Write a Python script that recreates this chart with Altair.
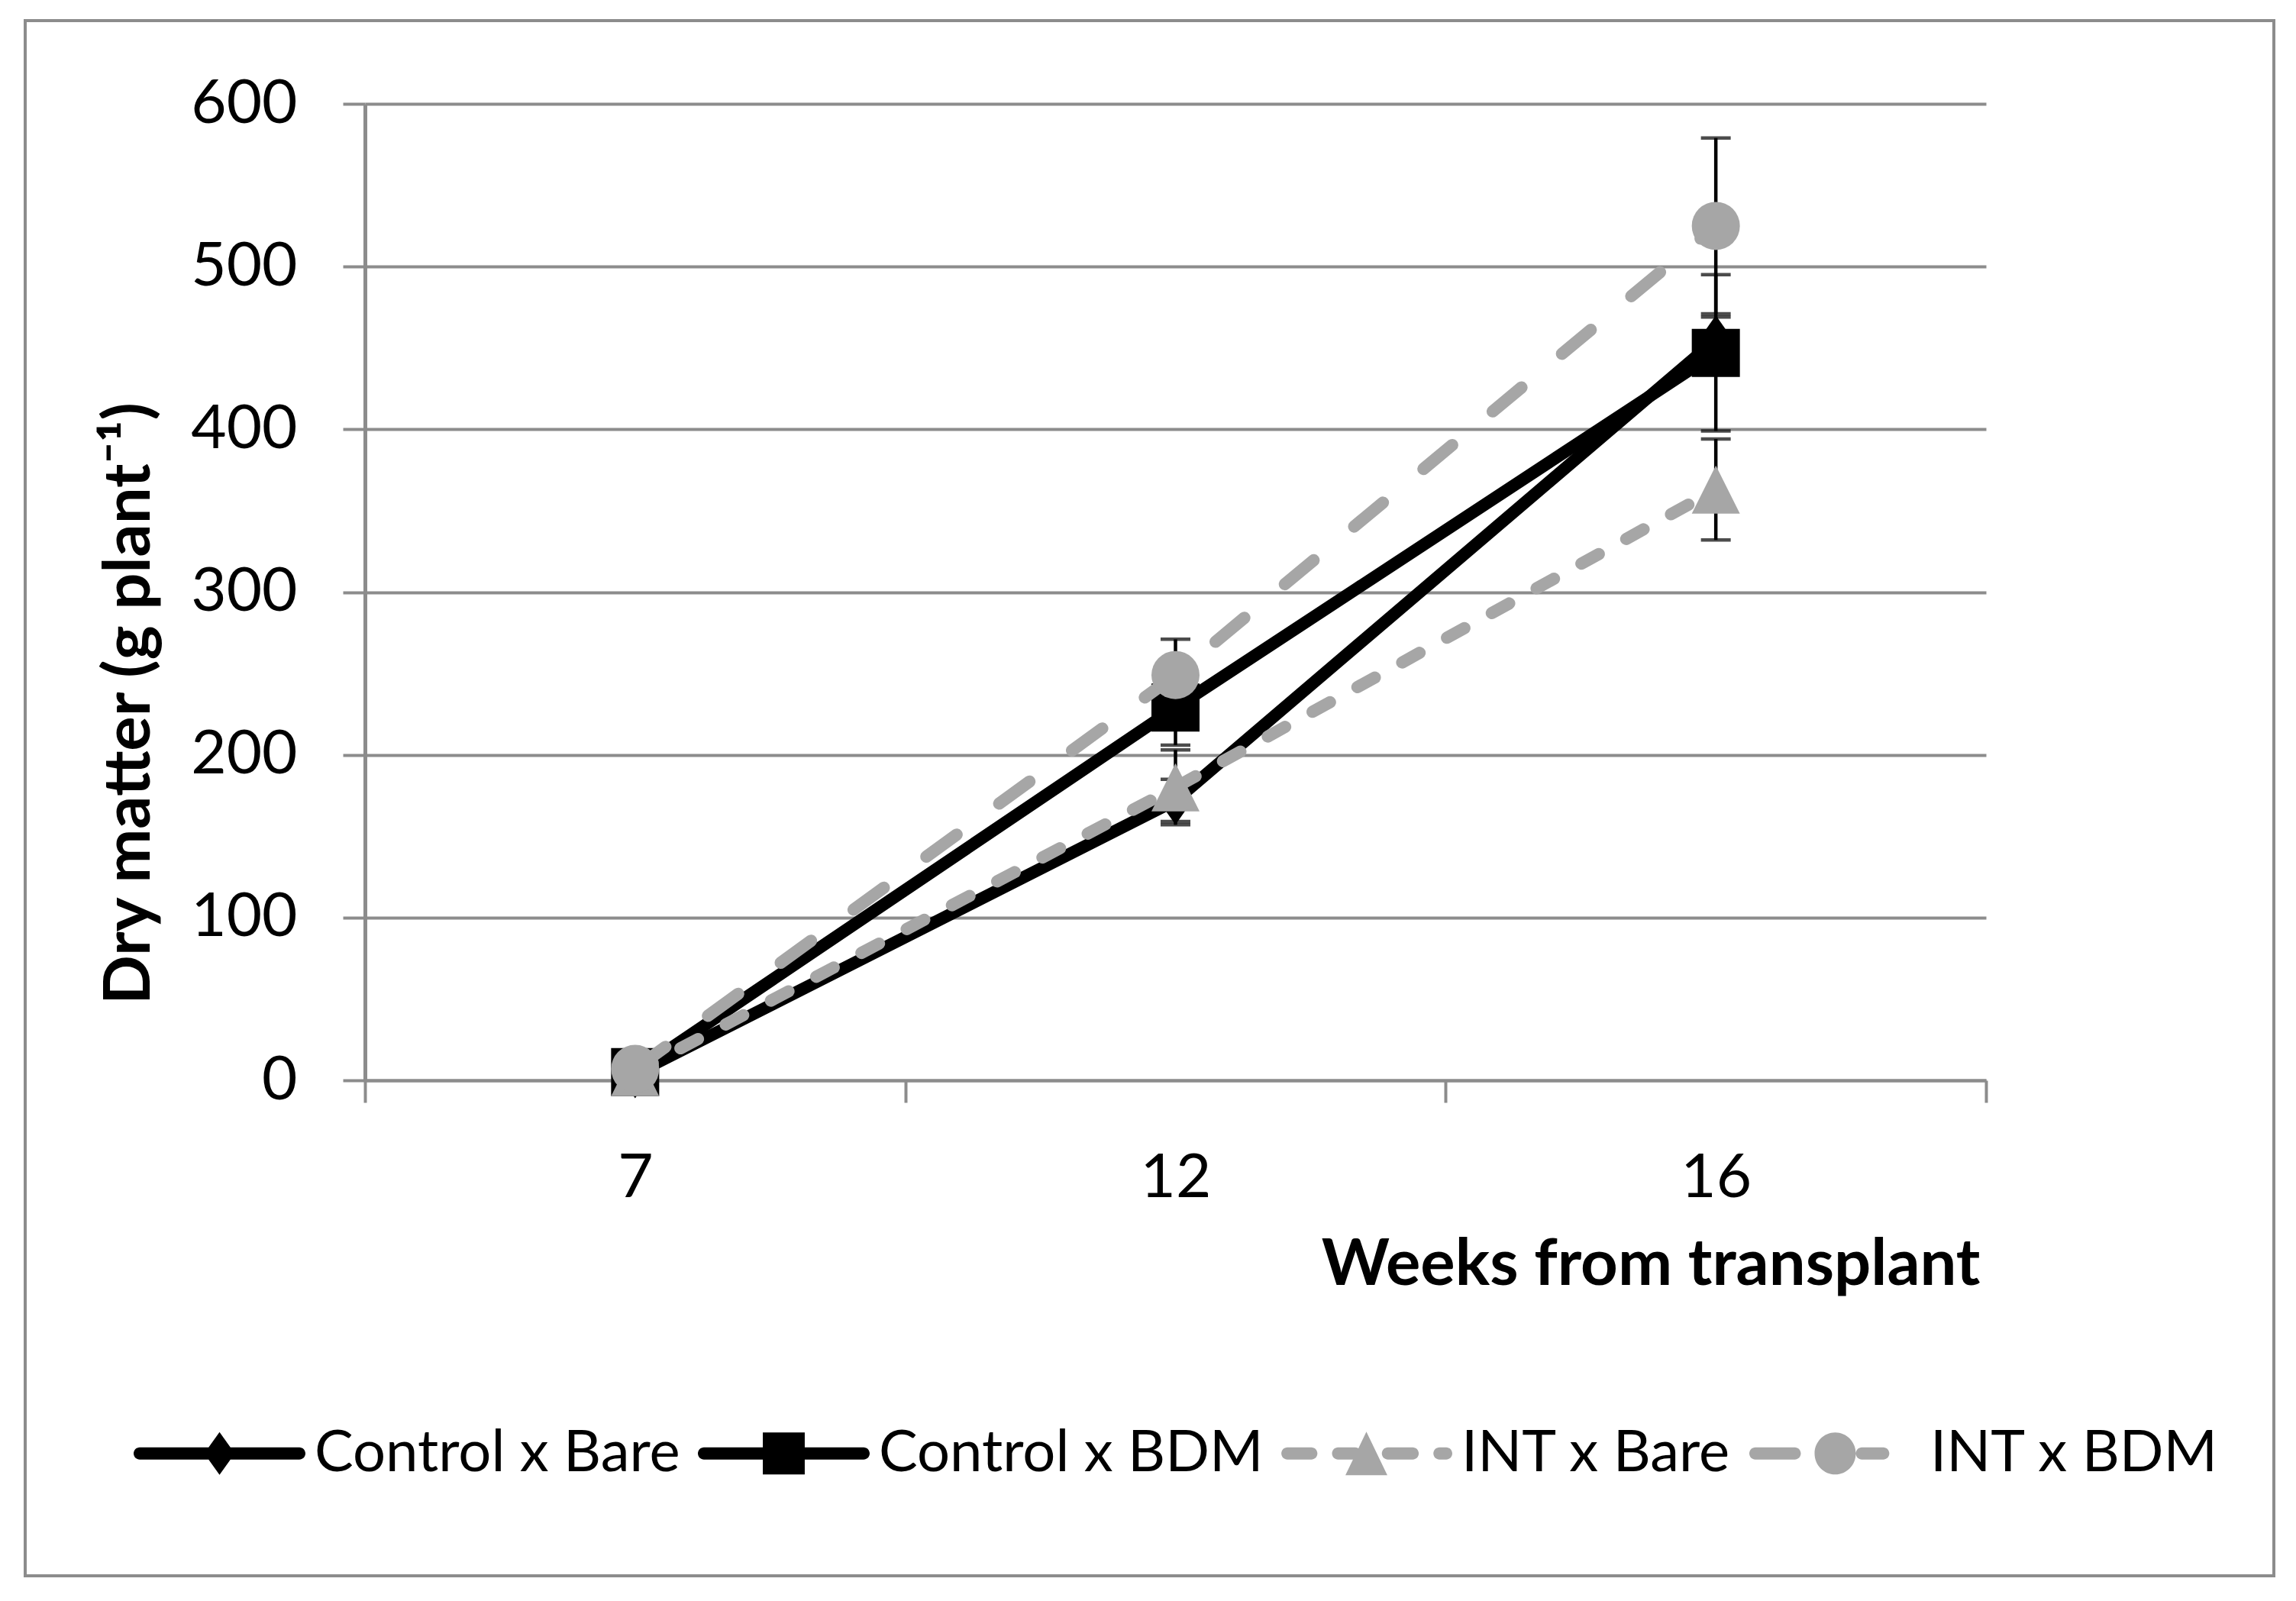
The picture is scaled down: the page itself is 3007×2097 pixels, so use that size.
import altair as alt
import pandas as pd

# ---------------- data ----------------
weeks = ["7", "12", "16"]
series = ["Control x Bare", "Control x BDM", "INT x Bare", "INT x BDM"]

control_bare = [4, 172, 455]
control_bdm = [5, 229, 447]
int_bare = [5, 180, 363]
int_bdm = [7, 249, 525]

err_control_bare = [1, 13, 14]
err_control_bdm = [1, 23, 48]
err_int_bare = [1, 23, 31]
err_int_bdm = [2, 22, 54]

y_ticks = [0, 100, 200, 300, 400, 500, 600]

values = [control_bare, control_bdm, int_bare, int_bdm]
errors = [err_control_bare, err_control_bdm, err_int_bare, err_int_bdm]

rows = []
for s, vals, errs in zip(series, values, errors):
    for w, v, e in zip(weeks, vals, errs):
        rows.append({"Week": w, "Series": s, "Value": v, "Lo": v - e, "Hi": v + e})
df = pd.DataFrame(rows)

# ---------------- styles ----------------
BLACK = "#000000"
GRAY = "#a6a6a6"
GRID = "#8c8c8c"
FONT = "Lato"

colors = [BLACK, BLACK, GRAY, GRAY]
dashes = [None, None, [26, 41], [49, 69]]
marker_shapes = ["M0,-1L0.7,0L0,1L-0.7,0Z", "square", "M0,-1L1,1L-1,1Z", "circle"]
marker_sizes = [4096, 3969, 3969, 3969]


def capsule(x0, x1, h):
    return (f"M{x0 + h:.3f},{-h:.3f}L{x1 - h:.3f},{-h:.3f}"
            f"A{h:.3f},{h:.3f} 0 0 1 {x1 - h:.3f},{h:.3f}"
            f"L{x0 + h:.3f},{h:.3f}"
            f"A{h:.3f},{h:.3f} 0 0 1 {x0 + h:.3f},{-h:.3f}Z")


H = 0.071
legend_paths = [
    capsule(-1, 1, H) + "M0,-0.249L0.178,0L0,0.249L-0.178,0Z",
    capsule(-1, 1, H) + "M-0.244,-0.244L0.244,-0.244L0.244,0.244L-0.244,0.244Z",
    capsule(-0.99, -0.57, H) + capsule(-0.40, -0.06, H) + capsule(0.18, 0.61, H)
    + capsule(0.78, 1.0, H) + "M0,-0.253L0.244,0.253L-0.244,0.253Z",
    capsule(-1, -0.4, H) + capsule(0.24, 0.63, H)
    + "M-0.24,0A0.24,0.245 0 1 0 0.24,0A0.24,0.245 0 1 0 -0.24,0Z",
]

PW, PH = 2123, 1279

x_enc = alt.X(
    "Week:N",
    sort=weeks,
    scale=alt.Scale(type="band", domain=weeks, paddingInner=0, paddingOuter=0),
    axis=alt.Axis(
        title="Weeks from transplant",
        labelAngle=0,
        tickBand="extent",
        grid=False,
        domainColor=GRID,
        domainWidth=4,
        tickColor=GRID,
        tickWidth=4,
        tickSize=29,
        labelPadding=60,
        labelFont=FONT,
        labelFontSize=80,
        labelColor=BLACK,
        titleFont=FONT,
        titleFontSize=85,
        titleFontWeight="bold",
        titleColor=BLACK,
        titleAnchor="end",
        titleAlign="right",
        titleBaseline="alphabetic",
        titleX=PW - 8,
        titleY=267,
    ),
)

y_enc = alt.Y(
    "Value:Q",
    scale=alt.Scale(domain=[0, 600], nice=False, zero=True),
    axis=alt.Axis(
        title="Dry matter (g plant\u207b\u00b9)",
        values=y_ticks,
        grid=True,
        gridColor=GRID,
        gridWidth=4,
        domainColor=GRID,
        domainWidth=5,
        tickColor=GRID,
        tickWidth=4,
        tickSize=29,
        labelPadding=60,
        labelFont=FONT,
        labelFontSize=80,
        labelColor=BLACK,
        titleFont=FONT,
        titleFontSize=85,
        titleFontWeight="bold",
        titleColor=BLACK,
        titleAngle=270,
        titleAlign="center",
        titleBaseline="alphabetic",
        titleX=-283,
        titleY=785,
    ),
)

base = alt.Chart(df)

# outer frame of the chart
frame = alt.Chart(pd.DataFrame({"k": [0]})).mark_rect(
    fillOpacity=0, stroke=GRID, strokeWidth=4
).encode(
    x=alt.value(-445), x2=alt.value(2500), y=alt.value(-109), y2=alt.value(1928)
)

layers = [frame]
for i, s in enumerate(series):
    sub = base.transform_filter(alt.datum.Series == s)
    line_kwargs = dict(color=colors[i], strokeWidth=16, strokeCap="round", strokeJoin="round")
    if dashes[i] is not None:
        line_kwargs["strokeDash"] = dashes[i]
    line = sub.mark_line(**line_kwargs).encode(x=x_enc, y=y_enc)
    rule = sub.mark_rule(color=BLACK, strokeWidth=4.5).encode(
        x=alt.X("Week:N", sort=weeks), y="Lo:Q", y2="Hi:Q"
    )
    cap_lo = sub.mark_tick(color=BLACK, thickness=4.5, size=39).encode(
        x=alt.X("Week:N", sort=weeks), y="Lo:Q"
    )
    cap_hi = sub.mark_tick(color=BLACK, thickness=4.5, size=39).encode(
        x=alt.X("Week:N", sort=weeks), y="Hi:Q"
    )
    pts = sub.mark_point(
        shape=marker_shapes[i], size=marker_sizes[i], filled=True,
        fill=colors[i], opacity=1, strokeWidth=0
    ).encode(x=alt.X("Week:N", sort=weeks), y="Value:Q")
    layers += [line, rule, cap_lo, cap_hi, pts]

legend = alt.Legend(
    title=None,
    orient="none",
    legendX=-303,
    legendY=1655,
    direction="horizontal",
    columns=4,
    columnPadding=22,
    padding=0,
    symbolSize=50625,
    symbolOpacity=1,
    symbolStrokeWidth=0,
    symbolOffset=0,
    labelOffset=12,
    labelFont=FONT,
    labelFontSize=76,
    labelColor=BLACK,
    labelLimit=1200,
)

legend_layer = base.mark_point(filled=True, opacity=0).encode(
    x=alt.X("Week:N", sort=weeks),
    y="Value:Q",
    color=alt.Color("Series:N", sort=series,
                    scale=alt.Scale(domain=series, range=colors), legend=legend),
    shape=alt.Shape("Series:N", sort=series,
                    scale=alt.Scale(domain=series, range=legend_paths), legend=legend),
)
layers.append(legend_layer)

chart = alt.layer(*layers).properties(
    width=PW,
    height=PH,
    padding={"left": 23, "top": 17, "right": 0, "bottom": 0},
    background="white",
).configure_view(stroke=None)

chart.save("out.html", embed_options={"renderer": "svg", "actions": False})
